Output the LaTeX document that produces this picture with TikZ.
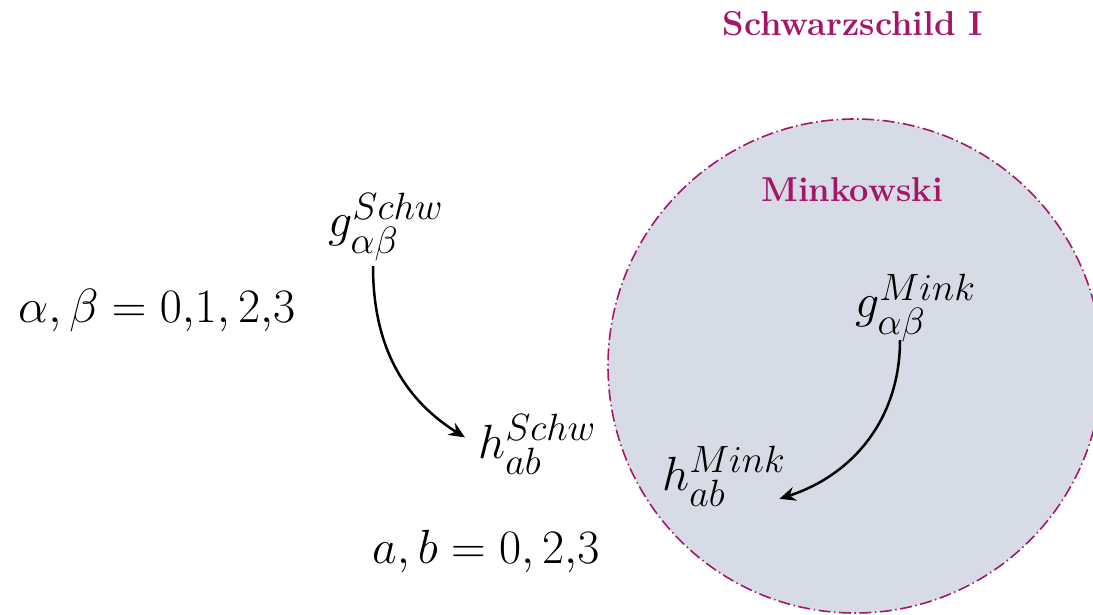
\RequirePackage{fix-cm}
\documentclass[tikz,border=0pt]{standalone}
\usepackage{amsmath,amssymb}
\usepackage{fontspec}
\usepackage{tikz}
\usepackage{xcolor}
\usetikzlibrary{arrows.meta}

\definecolor{schwmagenta}{RGB}{165,22,105}
\definecolor{minkfill}{RGB}{214,219,229}
\DeclareMathSizes{48}{48}{38}{30}

\begin{document}
\begin{tikzpicture}[x=1pt,y=1pt,every node/.style={inner sep=0pt},
  metric/.style={anchor=base west,font=\fontsize{48}{56}\selectfont},
  region/.style={font=\fontsize{34.5}{40}\selectfont\bfseries,text=schwmagenta},
  maparrow/.style={line width=2.5pt,-{Stealth[length=16pt,width=14pt]}}]
\useasboundingbox (0,0) rectangle (1093,614);
\fill[white] (0,0) rectangle (1093,614);
% Minkowski patch
\begin{scope}
\clip (0,0) rectangle (1093,614);
\fill[minkfill] (855,248) circle (247);
\draw[schwmagenta,line width=1.6pt,dash pattern=on 12pt off 3.5pt on 1.5pt off 3.5pt] (855,248) circle (247);
\end{scope}
\node[region] (schw) at (853,590) {Schwarzschild I};
\node[region] (mink) at (852,424) {Minkowski};
% metrics
\node[metric] (gschw) at (328,377) {$g^{Schw}_{\alpha\beta}$};
\node[metric] (hschw) at (478,156) {$h^{Schw}_{ab}$};
\node[metric] (gmink) at (855,296) {$g^{Mink}_{\alpha\beta}$};
\node[metric] (hmink) at (662,124) {$h^{Mink}_{ab}$};
\node[metric] (greek) at (18,291) {$\alpha,\beta = 0{,}1,2{,}3$};
\node[metric] (latin) at (372,51) {$a,b = 0,2{,}3$};
% maps
\draw[maparrow] ([xshift=45pt,yshift=-5pt]gschw.south west) to[out=-90,in=148] ([xshift=-13pt,yshift=7pt]hschw.west);
\draw[maparrow] ([xshift=45pt,yshift=2pt]gmink.south west) to[out=-90,in=18] ([xshift=-6pt,yshift=8pt]hmink.south east);
\end{tikzpicture}
\end{document}
